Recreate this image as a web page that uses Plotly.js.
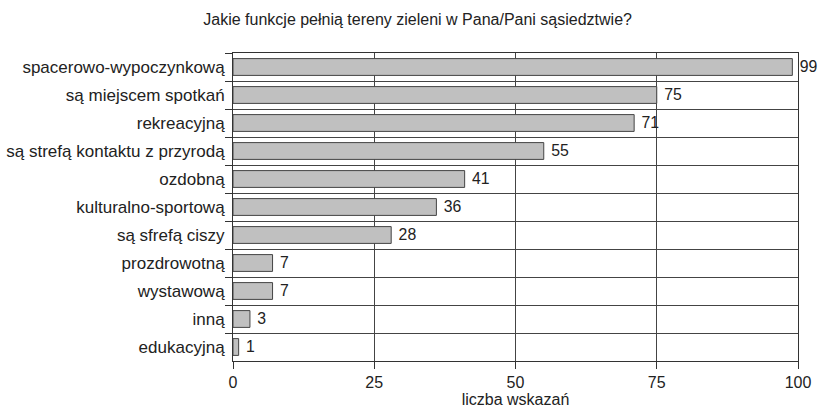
<!DOCTYPE html>
<html><head><meta charset="utf-8">
<script src="https://cdn.plot.ly/plotly-3.0.1.min.js"></script>
<style>body{margin:0;background:#fff}#c{width:827px;height:410px}</style>
</head><body><div id="c"></div>
<script>
const categories = ["spacerowo-wypoczynkową","są miejscem spotkań","rekreacyjną","są strefą kontaktu z przyrodą","ozdobną","kulturalno-sportową","są sfrefą ciszy","prozdrowotną","wystawową","inną","edukacyjną"];
const values = [99,75,71,55,41,36,28,7,7,3,1];
const xTicks = [0,25,50,75,100];

const font = "Liberation Sans, Arial, sans-serif";
Plotly.newPlot('c', [{
  type:'bar', orientation:'h', y:categories, x:values,
  text: values.map(v=>' '+v), textposition:'outside', cliponaxis:false,
  textfont:{family:font,size:16,color:'#222'},
  marker:{color:'#c0c0c0', line:{color:'#444', width:1}},
  width:0.6, hoverinfo:'none'
}], {
  width:827, height:410,
  margin:{l:233, r:29, t:53, b:49},
  paper_bgcolor:'#fff', plot_bgcolor:'#fff',
  showlegend:false,
  title:{text:'Jakie funkcje pełnią tereny zieleni w Pana/Pani sąsiedztwie?', x:0.505, xanchor:'center', y:0.953, yanchor:'middle', font:{family:font,size:16,color:'#222'}},
  xaxis:{range:[0,100], tickvals:xTicks, ticktext:xTicks.map(String), ticks:'outside', ticklen:7, tickcolor:'#333',
    showgrid:true, gridcolor:'#444', gridwidth:1, zeroline:false, showline:true, linecolor:'#333', mirror:true,
    tickfont:{family:font,size:16,color:'#222'},
    title:{text:'liczba wskazań', standoff:2, font:{family:font,size:16,color:'#222'}}, fixedrange:true},
  yaxis:{type:'category', autorange:'reversed', tickson:'boundaries', ticks:'outside', ticklen:7, tickcolor:'#333',
    showgrid:true, gridcolor:'#444', gridwidth:1, showline:true, linecolor:'#333', mirror:true,
    tickfont:{family:font,size:17,color:'#222'}, ticklabelstandoff:4, fixedrange:true}
}, {staticPlot:true});
</script></body></html>
